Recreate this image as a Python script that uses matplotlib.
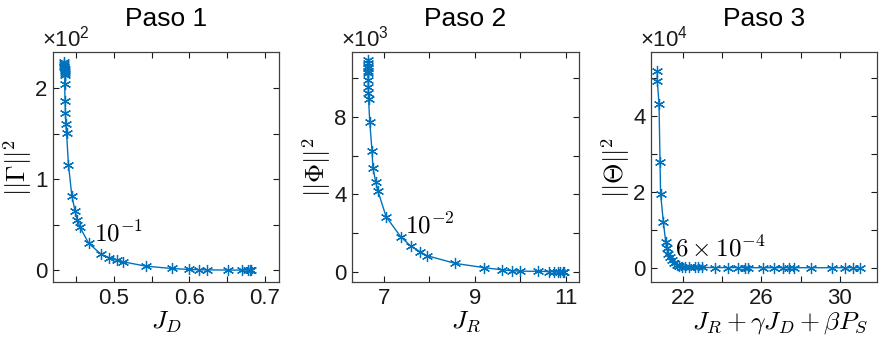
import matplotlib
matplotlib.use("Agg")
import matplotlib.pyplot as plt
import numpy as np

plt.rcParams["font.family"] = ["Liberation Sans", "DejaVu Sans"]
plt.rcParams["mathtext.fontset"] = "cm"

# Paso 1: ||Gamma||^2 vs J_D
jd = [0.434, 0.434, 0.434, 0.434, 0.435, 0.435, 0.435, 0.435, 0.4345, 0.435,
      0.4355, 0.436, 0.437, 0.4395, 0.444, 0.4483, 0.4514, 0.455, 0.4665, 0.4828,
      0.4938, 0.5044, 0.5123, 0.5424, 0.5764, 0.5993, 0.613, 0.6236, 0.6514, 0.6705,
      0.678, 0.680, 0.682]
gamma_sq = [229, 227, 225, 223, 221, 219, 217, 215, 205, 186,
            173, 161, 151, 116, 82, 65, 55, 47, 29.4, 17.6,
            13.6, 11.0, 9.2, 4.4, 1.9, 0.8, 0.5, 0.3, 0.15, 0.08,
            0.05, 0.03, 0.02]

# Paso 2: ||Phi||^2 vs J_R
jr = [6.65, 6.65, 6.65, 6.65, 6.65, 6.65, 6.655, 6.66, 6.66, 6.665,
      6.69, 6.74, 6.76, 6.82, 6.87, 7.05, 7.37, 7.59, 7.80, 7.95,
      8.57, 9.21, 9.59, 9.81, 9.99, 10.38, 10.63, 10.74, 10.82, 10.87,
      10.93, 10.96]
phi_sq = [10930, 10800, 10650, 10500, 10370, 10250, 9900, 9560, 9220, 8910,
          7750, 6240, 5370, 4650, 4170, 2840, 1810, 1330, 1030, 830,
          430, 210, 100, 50, 30, 20, 10, 10, 5, 3,
          2, 1]

# Paso 3: ||Theta||^2 vs J_R + gamma J_D + beta P_S
jtot = [20.69, 20.69, 20.78, 20.83, 20.86, 21.0, 21.12, 21.17, 21.25, 21.34,
        21.42, 21.56, 21.68, 21.81, 21.93, 22.1, 22.32, 22.6, 22.78, 22.95,
        23.63, 24.31, 24.82, 25.16, 25.33, 26.1, 26.66, 27.09, 27.42, 27.66,
        28.52, 29.62, 30.27, 30.69, 31.03]
theta_sq = [51800, 49100, 43100, 27900, 19400, 12100, 6800, 5100, 3500, 2900,
            2000, 1150, 700, 400, 300, 200, 150, 100, 80, 60,
            40, 30, 20, 15, 10, 8, 6, 5, 4, 3,
            2, 1, 1, 1, 1]

panels = [
    dict(x=jd, y=gamma_sq, scale=1e2, exp="2", title="Paso 1",
         xlabel=r"$J_D$", ylabel=r"$||\Gamma||^2$", xlabel_x=0.5,
         xlim=(0.419, 0.719), ylim=(-0.13, 2.40),
         xticks=np.arange(0.45, 0.701, 0.05), xlab_every=(1, 2),
         yticks=np.arange(0, 2.01, 0.5), ylab_every=(0, 2),
         note=r"$10^{-1}$", note_xy=(0.474, 0.40)),
    dict(x=jr, y=phi_sq, scale=1e3, exp="3", title="Paso 2",
         xlabel=r"$J_R$", ylabel=r"$||\Phi||^2$", xlabel_x=0.5,
         xlim=(6.30, 11.29), ylim=(-0.53, 11.35),
         xticks=np.arange(7, 11.01, 1), xlab_every=(0, 2),
         yticks=np.arange(0, 10.01, 2), ylab_every=(0, 2),
         note=r"$10^{-2}$", note_xy=(7.47, 2.41)),
    dict(x=jtot, y=theta_sq, scale=1e4, exp="4", title="Paso 3",
         xlabel=r"$J_R + \gamma J_D + \beta P_S$", ylabel=r"$||\Theta||^2$",
         xlabel_x=0.57,
         xlim=(20.37, 31.9), ylim=(-0.376, 5.68),
         xticks=np.arange(22, 30.01, 2), xlab_every=(0, 2),
         yticks=np.arange(0, 5.01, 1), ylab_every=(0, 2),
         note=r"$6\times10^{-4}$", note_xy=(21.6, 0.51)),
]

W, H = 881, 338
boxes = [(53, 279), (352, 579), (651, 877)]
top, bottom = 52, 282

fig = plt.figure(figsize=(W / 100, H / 100), dpi=100)
blue = "#0072BD"
edge = "#404040"

for (l, r), p in zip(boxes, panels):
    ax = fig.add_axes([l / W, (H - bottom) / H, (r - l) / W, (bottom - top) / H])
    y = np.array(p["y"]) / p["scale"]
    ax.plot(p["x"], y, color=blue, lw=1.0, marker=(6, 2, 0), ms=8, mew=0.9)
    ax.set_xlim(p["xlim"])
    ax.set_ylim(p["ylim"])

    ax.set_xticks(p["xticks"])
    s, k = p["xlab_every"]
    ax.set_xticklabels([f"{v:g}" if (i - s) % k == 0 and i >= s else ""
                        for i, v in enumerate(p["xticks"])])
    ax.set_yticks(p["yticks"])
    s, k = p["ylab_every"]
    ax.set_yticklabels([f"{v:g}" if (i - s) % k == 0 and i >= s else ""
                        for i, v in enumerate(p["yticks"])])

    ax.tick_params(direction="in", length=4, width=0.8, top=True, right=True,
                   labelsize=16, colors="#1a1a1a", pad=4)
    for sp in ax.spines.values():
        sp.set_color(edge)
        sp.set_linewidth(0.9)

    ax.set_title(p["title"], fontsize=19, pad=19)
    ax.set_xlabel(p["xlabel"], fontsize=18.5)
    ax.xaxis.set_label_coords(p["xlabel_x"], -0.12)
    ax.xaxis.label.set_va("top")
    ax.set_ylabel(p["ylabel"], fontsize=19, labelpad=1)
    ax.text(-0.05, 1.0, "×$\\mathregular{10^{" + p["exp"] + "}}$",
            transform=ax.transAxes, ha="left", va="bottom", fontsize=16,
            color="#1a1a1a")
    ax.text(p["note_xy"][0], p["note_xy"][1], p["note"], fontsize=18,
            ha="left", va="center")

fig.savefig("out.png", dpi=100)
